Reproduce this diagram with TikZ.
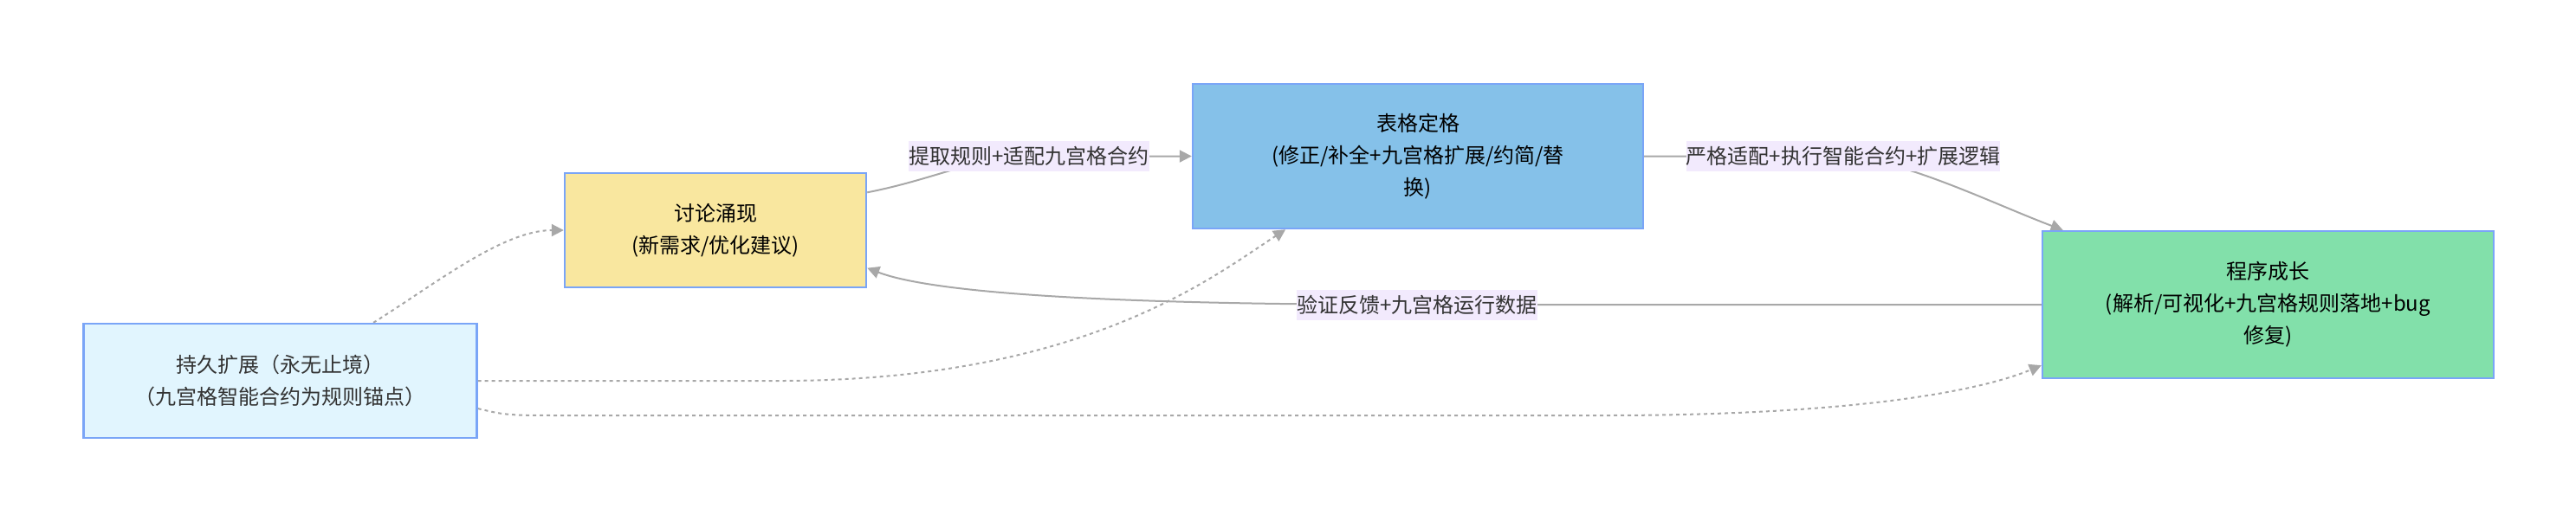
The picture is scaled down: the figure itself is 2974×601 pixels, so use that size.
\documentclass[tikz,border=0pt]{standalone}
\usepackage{fontspec}
\setmainfont{Noto Sans CJK SC}
\usetikzlibrary{arrows.meta, backgrounds}
\definecolor{diskgelb}{RGB}{249,231,159}
\definecolor{tabblau}{RGB}{133,193,233}
\definecolor{proggruen}{RGB}{130,224,170}
\definecolor{hellblau}{RGB}{225,245,254}
\definecolor{rahmenblau}{RGB}{122,165,247}
\definecolor{kantengrau}{RGB}{168,168,168}
\definecolor{etikettbg}{RGB}{242,234,253}
\definecolor{textgrau}{RGB}{51,51,51}

\begin{document}
\begin{tikzpicture}[x=0.5pt, y=-0.5pt,
        >={Triangle[length=7pt,width=7pt]},   %Pfeilspitzen
        box/.style={draw=rahmenblau, line width=1.2pt, inner sep=0pt, align=center, font=\fontsize{12}{18.5}\selectfont},
        kante/.style={->, draw=kantengrau, line width=1pt},
        punktiert/.style={kante, dash pattern=on 2pt off 2pt},
        etikett/.style={fill=etikettbg, inner sep=0pt, minimum height=17.5pt, text=textgrau, font=\fontsize{12}{14}\selectfont}]
        %Bildbereich
        \useasboundingbox (0,0) rectangle (2974,601);
        % Knoten
        \node[box, fill=diskgelb, minimum width=174pt, minimum height=66pt] (diskussion) at (826,266) {讨论涌现\\(新需求/优化建议)};
        \node[box, fill=tabblau, minimum width=260pt, minimum height=83.5pt] (tabelle) at (1637,180.5) {表格定格\\(修正/补全+九宫格扩展/约简/替\\换)};
        \node[box, fill=proggruen, minimum width=260.5pt, minimum height=85pt] (programm) at (2618.5,352) {程序成长\\(解析/可视化+九宫格规则落地+bug\\修复)};
        \node[box, fill=hellblau, text=textgrau, minimum width=227pt, minimum height=66pt] (erweiterung) at (323.5,440) {持久扩展（永无止境）\\（九宫格智能合约为规则锚点）};
        % Beschriftung der Kanten
        \node[etikett] (e1) at (1188,180.5) {提取规则+适配九宫格合约};
        \node[etikett] (e2) at (2128,180.5) {严格适配+执行智能合约+扩展逻辑};
        \node[etikett] (e3) at (1636,352) {验证反馈+九宫格运行数据};
        % Kanten zeichnen
        \begin{pgfonlayer}{background}
        \draw[kante] (diskussion.14) .. controls (1080,207) and (1130,180) .. (e1.center) -- (tabelle.west);
        \draw[kante] (tabelle.east) -- (e2.center) .. controls (2200,185) and (2300,235) .. (programm.160);
        \draw[kante] (programm.west) -- (e3.center) .. controls (1300,352) and (1080,340) .. (diskussion.-14);
        \draw[punktiert] (erweiterung.32) .. controls (500,330) and (580,266) .. (diskussion.west);
        \draw[punktiert] (erweiterung.east) -- (900,440) .. controls (1250,440) and (1400,320) .. (tabelle.209);
        \draw[punktiert] (erweiterung.-8) .. controls (585,480) .. (660,480) -- (1850,480) .. controls (2150,480) and (2290,450) .. (programm.195);
        \end{pgfonlayer}
    \end{tikzpicture}
\end{document}
